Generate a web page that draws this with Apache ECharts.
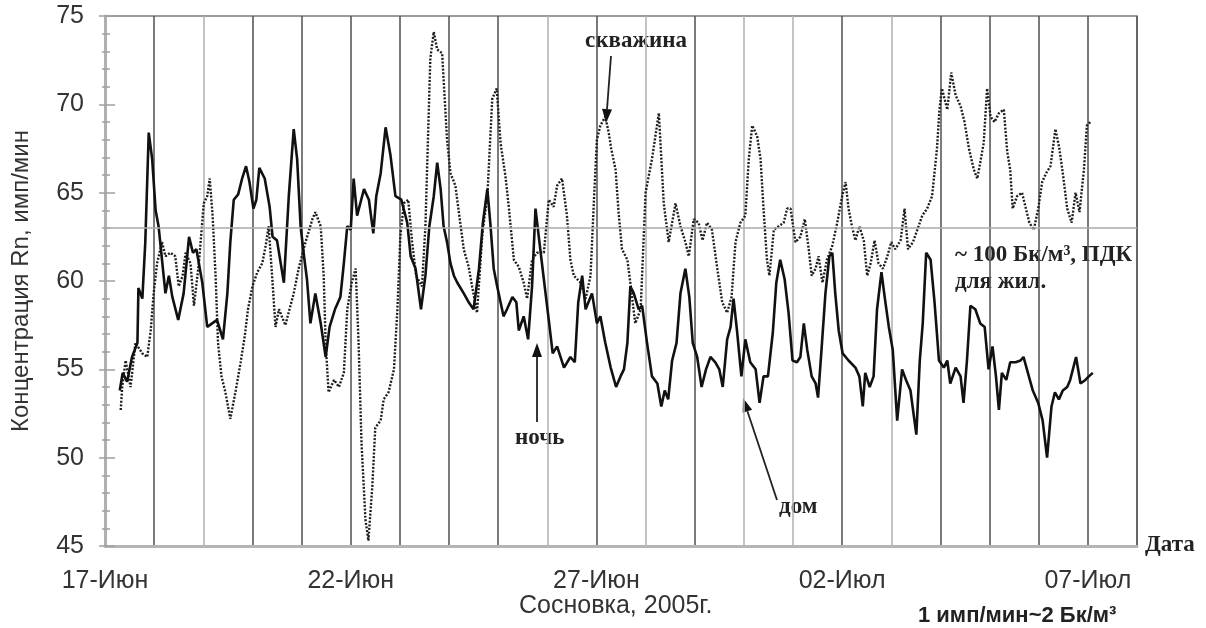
<!DOCTYPE html>
<html>
<head>
<meta charset="utf-8">
<script src="https://cdn.jsdelivr.net/npm/echarts@6/dist/echarts.min.js"></script>
<style>html,body{margin:0;padding:0;background:#fff;}#c{width:1206px;height:628px;}</style>
</head>
<body>
<div id="c"></div>
<script>
// x = days since 17 June 2005, y = концентрация Rn, имп/мин
const dateLabels = ['17-Июн', '22-Июн', '27-Июн', '02-Июл', '07-Июл'];
const labelStepDays = 5;
const pdkLevel = 63;

// "дом" (solid line)
const houseSeries = [
[0.30,53.8],[0.36,54.8],[0.45,54.3],[0.55,55.7],[0.66,56.5],[0.68,59.6],[0.76,59.0],[0.82,62.2],[0.89,68.4],[0.96,66.9],
[1.03,64.0],[1.09,63.1],[1.16,61.2],[1.23,59.3],[1.30,60.3],[1.37,59.1],[1.49,57.8],[1.60,59.3],[1.71,62.5],[1.79,61.6],
[1.86,61.8],[1.98,59.9],[2.08,57.4],[2.18,57.6],[2.28,57.8],[2.40,56.7],[2.49,59.3],[2.55,62.2],[2.62,64.6],[2.71,64.9],
[2.79,65.8],[2.87,66.5],[2.94,65.6],[3.02,64.1],[3.08,64.6],[3.14,66.4],[3.25,65.8],[3.35,64.2],[3.41,62.5],[3.50,62.3],
[3.64,59.9],[3.74,64.8],[3.84,68.6],[3.91,66.9],[3.98,63.1],[4.05,61.4],[4.11,60.1],[4.18,57.6],[4.28,59.3],[4.39,57.6],
[4.49,55.7],[4.57,57.4],[4.68,58.4],[4.79,59.1],[4.86,61.0],[4.93,63.1],[5.00,62.9],[5.06,65.8],[5.13,63.7],[5.27,65.2],
[5.37,64.6],[5.46,62.7],[5.52,64.8],[5.61,66.1],[5.71,68.7],[5.81,67.1],[5.91,64.8],[6.03,64.6],[6.15,63.3],[6.22,61.4],
[6.32,60.7],[6.43,58.4],[6.52,60.3],[6.60,63.1],[6.69,64.8],[6.76,66.7],[6.83,65.2],[6.89,63.1],[6.96,62.2],[7.03,61.0],
[7.10,60.3],[7.17,59.9],[7.30,59.3],[7.40,58.8],[7.50,58.4],[7.61,60.7],[7.69,63.3],[7.78,65.2],[7.84,63.3],[7.91,60.7],
[7.98,59.7],[8.11,58.0],[8.18,58.4],[8.29,59.1],[8.37,58.8],[8.42,57.2],[8.52,58.0],[8.61,56.7],[8.69,59.7],[8.76,64.1],
[8.84,62.2],[8.93,60.1],[9.03,57.8],[9.11,55.9],[9.20,56.3],[9.34,55.1],[9.47,55.7],[9.56,55.4],[9.63,58.8],[9.71,60.3],
[9.78,58.4],[9.91,59.3],[10.01,57.6],[10.08,58.0],[10.18,56.5],[10.29,55.1],[10.40,54.0],[10.49,54.6],[10.56,55.0],[10.63,56.5],
[10.69,59.7],[10.76,59.3],[10.86,58.4],[10.93,58.6],[11.03,56.5],[11.13,54.6],[11.24,54.2],[11.32,52.9],[11.39,53.8],[11.46,53.3],
[11.54,55.5],[11.63,56.5],[11.71,59.3],[11.81,60.7],[11.89,59.1],[11.96,56.5],[12.05,55.7],[12.14,54.0],[12.23,55.0],[12.32,55.7],
[12.42,55.4],[12.50,55.0],[12.57,54.0],[12.66,56.7],[12.73,57.4],[12.79,59.0],[12.86,57.2],[12.95,54.6],[13.03,56.7],[13.13,55.4],
[13.24,55.0],[13.32,53.1],[13.40,54.6],[13.49,54.6],[13.59,57.1],[13.66,59.9],[13.74,61.2],[13.83,60.1],[13.91,58.2],[13.99,55.5],
[14.08,55.4],[14.15,55.7],[14.22,57.6],[14.29,56.1],[14.38,54.6],[14.46,54.2],[14.51,53.4],[14.59,56.5],[14.66,59.3],[14.74,61.4],
[14.80,61.6],[14.86,59.3],[14.93,57.2],[15.01,55.9],[15.13,55.5],[15.27,55.1],[15.35,54.6],[15.42,52.9],[15.47,54.8],[15.56,54.0],
[15.64,54.6],[15.71,58.4],[15.80,60.5],[15.87,59.0],[15.95,57.4],[16.03,56.1],[16.12,52.1],[16.22,55.0],[16.30,54.4],[16.39,53.8],
[16.51,51.3],[16.58,55.5],[16.64,57.6],[16.71,61.6],[16.80,61.2],[16.88,58.8],[16.97,55.5],[17.07,55.1],[17.14,55.5],[17.20,54.2],
[17.31,55.1],[17.41,54.6],[17.47,53.1],[17.54,55.5],[17.61,58.6],[17.71,58.4],[17.81,57.6],[17.90,57.4],[17.98,55.0],[18.06,56.3],
[18.13,54.6],[18.19,52.7],[18.25,54.8],[18.34,54.4],[18.42,55.4],[18.53,55.4],[18.63,55.5],[18.69,55.7],[18.78,54.8],[18.88,53.8],
[18.99,53.1],[19.08,52.1],[19.17,50.0],[19.26,52.9],[19.33,53.7],[19.41,53.3],[19.49,53.8],[19.58,54.0],[19.64,54.4],[19.76,55.7],
[19.85,54.2],[19.95,54.4],[20.02,54.6],[20.10,54.8]
];

// "скважина" (dotted line)
const wellSeries = [
[0.32,52.7],[0.35,54.0],[0.42,55.5],[0.52,54.0],[0.62,56.5],[0.76,55.9],[0.86,55.7],[0.93,57.2],[0.99,59.3],[1.06,61.0],
[1.16,62.2],[1.23,61.4],[1.33,61.6],[1.43,61.4],[1.50,59.7],[1.58,60.3],[1.64,61.6],[1.74,61.0],[1.81,58.6],[1.91,61.0],
[2.01,64.4],[2.08,64.8],[2.13,65.8],[2.19,63.7],[2.25,60.3],[2.30,56.5],[2.37,54.6],[2.45,53.7],[2.55,52.2],[2.66,53.8],
[2.76,55.4],[2.84,56.8],[2.91,58.4],[3.00,59.7],[3.10,60.5],[3.20,61.0],[3.27,62.0],[3.33,63.1],[3.40,60.3],[3.47,57.4],
[3.54,58.4],[3.67,57.5],[3.84,59.3],[3.94,60.7],[4.08,62.2],[4.22,63.5],[4.28,63.9],[4.39,63.1],[4.45,60.3],[4.49,56.5],
[4.55,53.7],[4.66,54.4],[4.76,54.0],[4.86,54.8],[4.93,58.4],[5.02,59.9],[5.10,60.7],[5.16,56.5],[5.22,50.8],[5.30,46.5],
[5.36,45.3],[5.44,48.4],[5.50,51.7],[5.61,52.1],[5.67,53.3],[5.77,53.7],[5.88,55.0],[5.95,58.4],[6.01,62.5],[6.08,64.4],
[6.17,64.6],[6.25,62.2],[6.33,60.3],[6.45,59.7],[6.52,63.1],[6.58,68.8],[6.62,72.6],[6.69,74.1],[6.76,73.1],[6.86,72.9],
[6.96,68.0],[7.03,66.1],[7.13,65.4],[7.20,63.9],[7.30,61.8],[7.40,60.8],[7.47,59.7],[7.57,58.2],[7.68,62.7],[7.78,64.8],
[7.88,70.3],[7.97,70.9],[8.05,67.8],[8.15,65.9],[8.22,64.1],[8.32,61.2],[8.42,60.8],[8.52,59.9],[8.59,59.0],[8.69,61.2],
[8.79,61.6],[8.93,61.6],[9.03,64.6],[9.13,64.2],[9.20,65.4],[9.30,65.8],[9.40,63.7],[9.47,61.2],[9.54,60.3],[9.68,59.9],
[9.78,59.0],[9.88,60.3],[9.95,64.6],[10.01,68.0],[10.08,68.8],[10.18,69.3],[10.25,68.4],[10.30,67.5],[10.39,66.3],[10.45,63.9],
[10.52,61.8],[10.63,61.2],[10.69,59.9],[10.79,57.6],[10.90,58.4],[11.00,65.0],[11.13,66.9],[11.27,69.5],[11.37,64.4],[11.47,62.2],
[11.61,64.4],[11.71,63.1],[11.81,62.2],[11.88,61.4],[11.98,63.5],[12.08,63.3],[12.16,62.3],[12.25,63.3],[12.35,62.9],[12.46,60.7],
[12.56,58.8],[12.66,58.2],[12.75,59.1],[12.83,62.2],[12.93,63.3],[13.03,63.7],[13.10,66.9],[13.17,68.8],[13.27,68.2],[13.34,66.9],
[13.40,64.1],[13.47,61.2],[13.52,60.3],[13.61,62.9],[13.71,63.1],[13.81,63.3],[13.88,64.1],[13.95,64.1],[14.05,62.2],[14.15,62.5],
[14.24,63.5],[14.32,61.8],[14.38,60.3],[14.46,60.7],[14.52,61.4],[14.60,59.9],[14.69,61.2],[14.80,62.0],[14.90,63.3],[15.00,64.8],
[15.07,65.6],[15.13,64.1],[15.20,63.1],[15.27,62.3],[15.35,63.1],[15.44,62.3],[15.51,60.3],[15.58,61.0],[15.66,62.3],[15.74,61.0],
[15.83,60.7],[15.92,61.4],[16.00,62.2],[16.08,61.8],[16.19,62.3],[16.27,64.1],[16.34,61.8],[16.44,62.2],[16.53,62.9],[16.63,63.7],
[16.73,64.1],[16.83,64.8],[16.93,67.5],[16.98,69.7],[17.03,70.9],[17.14,69.7],[17.22,71.8],[17.31,70.5],[17.41,69.9],[17.49,69.0],
[17.58,67.5],[17.68,66.3],[17.75,65.8],[17.81,66.7],[17.88,67.8],[17.95,70.9],[18.02,69.3],[18.10,69.0],[18.19,69.5],[18.29,69.7],
[18.36,67.3],[18.42,66.3],[18.47,64.1],[18.56,64.8],[18.66,65.0],[18.73,64.2],[18.81,63.3],[18.90,62.9],[18.99,64.1],[19.07,65.6],
[19.15,66.1],[19.24,66.5],[19.34,68.6],[19.42,67.5],[19.49,66.1],[19.58,64.1],[19.67,63.3],[19.75,65.0],[19.83,63.9],[19.92,66.3],
[19.98,68.8],[20.05,69.0]
];

// vertical day lines: lighter ones
const lightDays = [0, 2, 9, 11, 13, 14, 16];

const chart = echarts.init(document.getElementById('c'), null, {renderer: 'canvas'});
const dayLineColors = [];
for (let d = 0; d <= 21; d++) dayLineColors.push(lightDays.indexOf(d) >= 0 ? '#b4b4b4' : '#5a5a5a');

const sans = 'Liberation Sans, Arial, sans-serif';
const serif = 'Liberation Serif, Times New Roman, serif';

function arrow(x1, y1, x2, y2) {
  const dx = x2 - x1, dy = y2 - y1, L = Math.sqrt(dx*dx + dy*dy);
  const ux = dx / L, uy = dy / L, hl = 14, hw = 5;
  const bx = x2 - ux*hl, by = y2 - uy*hl;
  return [
    {type: 'line', shape: {x1: x1, y1: y1, x2: bx, y2: by}, style: {stroke: '#222', lineWidth: 1.8}, silent: true},
    {type: 'polygon', shape: {points: [[x2, y2], [bx - uy*hw, by + ux*hw], [bx + uy*hw, by - ux*hw]]}, style: {fill: '#111'}, silent: true}
  ];
}

const yCommon = {type: 'value', min: 45, max: 75, interval: 5, position: 'left', offset: 0};

chart.setOption({
  animation: false,
  backgroundColor: '#fff',
  grid: {left: 105, right: 69, top: 16, bottom: 82, show: true, borderColor: '#7a7a7a', borderWidth: 1.5,
         containLabel: false, outerBoundsMode: 'none'},
  xAxis: {
    type: 'value', min: 0, max: 21, interval: 1,
    axisLine: {show: true, lineStyle: {color: '#b5b5b5', width: 3}},
    axisTick: {show: false},
    axisLabel: {
      margin: 23, color: '#333', fontSize: 25, fontFamily: sans, hideOverlap: false,
      formatter: function (v) { return (v % labelStepDays === 0) ? (dateLabels[v / labelStepDays] || '') : ''; }
    },
    splitLine: {show: true, lineStyle: {color: dayLineColors, width: 1.6}}
  },
  yAxis: [
    Object.assign({}, yCommon, {
      name: 'Концентрация Rn, имп/мин', nameLocation: 'middle', nameGap: 72, nameRotate: 90,
      nameTextStyle: {color: '#333', fontSize: 24, fontFamily: sans},
      axisLine: {show: true, lineStyle: {color: '#b0b0b0', width: 3}},
      axisTick: {show: true, inside: false, length: 6, lineStyle: {color: '#a0a0a0', width: 1.5}},
      minorTick: {show: true, splitNumber: 5, length: 3, lineStyle: {color: '#a0a0a0', width: 1.5}},
      axisLabel: {margin: 21, color: '#333', fontSize: 25, fontFamily: sans},
      splitLine: {show: false}
    }),
    Object.assign({}, yCommon, {
      axisLine: {show: false},
      axisTick: {show: true, inside: true, length: 10, lineStyle: {color: '#a0a0a0', width: 1.5}},
      minorTick: {show: true, splitNumber: 5, length: 5, lineStyle: {color: '#a0a0a0', width: 1.5}},
      axisLabel: {show: false},
      splitLine: {show: false}
    })
  ],
  series: [
    {
      name: 'скважина', type: 'line', data: wellSeries, showSymbol: false, symbol: 'none', yAxisIndex: 0,
      lineStyle: {color: '#1e1e1e', width: 2.4, type: [2, 1.6]},
      markLine: {
        silent: true, symbol: 'none', label: {show: false},
        lineStyle: {color: '#aaaaaa', width: 1.5, type: 'solid'},
        data: [{yAxis: pdkLevel}]
      },
      z: 3
    },
    {
      name: 'дом', type: 'line', data: houseSeries, showSymbol: false, symbol: 'none', yAxisIndex: 0,
      lineStyle: {color: '#111', width: 2.6}, z: 4
    }
  ],
  graphic: [
    {type: 'text', left: 585, top: 30, style: {text: 'скважина', font: 'bold 23px ' + serif, fill: '#222'}},
    ...arrow(611, 56, 606, 123),
    {type: 'text', left: 515, top: 427, style: {text: 'ночь', font: 'bold 23px ' + serif, fill: '#222'}},
    ...arrow(537, 422, 537, 343),
    {type: 'text', left: 779, top: 496, style: {text: 'дом', font: 'bold 23px ' + serif, fill: '#222'}},
    ...arrow(777, 500, 743, 398),
    {type: 'text', left: 955, top: 244, style: {text: '~ 100 Бк/м³, ПДК', font: 'bold 23px ' + serif, fill: '#222'}},
    {type: 'text', left: 955, top: 271, style: {text: 'для жил.', font: 'bold 23px ' + serif, fill: '#222'}},
    {type: 'text', left: 1145, top: 534, style: {text: 'Дата', font: 'bold 23px ' + serif, fill: '#222'}},
    {type: 'text', left: 519, top: 594, style: {text: 'Сосновка, 2005г.', font: '25px ' + sans, fill: '#333'}},
    {type: 'text', left: 918, top: 605, style: {text: '1 имп/мин~2 Бк/м³', font: 'bold 22px ' + sans, fill: '#222'}}
  ]
});
</script>
</body>
</html>
